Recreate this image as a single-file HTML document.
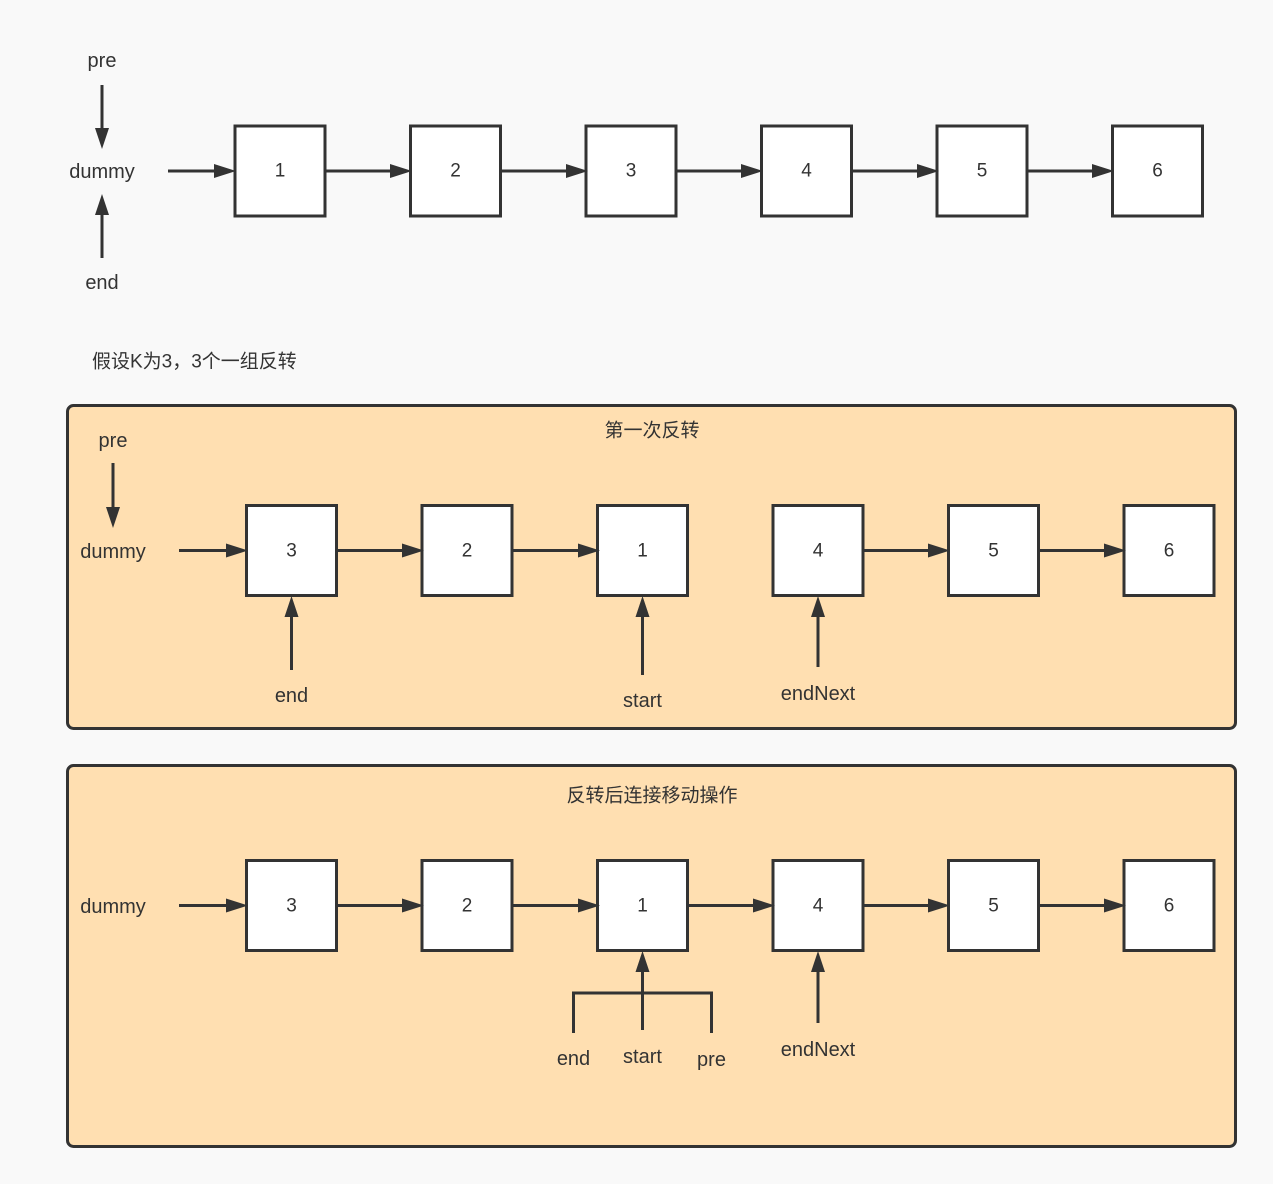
<!DOCTYPE html>
<html><head><meta charset="utf-8"><style>
html,body{margin:0;padding:0;background:#f9f9f9;overflow:hidden;width:1273px;height:1184px;}
svg{display:block;}
svg text{font-family:"Liberation Sans","Noto Sans CJK SC",sans-serif;fill:#333;text-anchor:middle;dominant-baseline:central;}
</style></head><body>
<svg width="1273" height="1184" viewBox="0 0 1273 1184" xmlns="http://www.w3.org/2000/svg">
<rect x="0" y="0" width="1273" height="1184" fill="#f9f9f9"/>
<g stroke="#333" stroke-width="3" fill="none">
<rect x="235" y="126" width="90" height="90" fill="#fff"/>
<rect x="410.5" y="126" width="90" height="90" fill="#fff"/>
<rect x="586" y="126" width="90" height="90" fill="#fff"/>
<rect x="761.5" y="126" width="90" height="90" fill="#fff"/>
<rect x="937" y="126" width="90" height="90" fill="#fff"/>
<rect x="1112.5" y="126" width="90" height="90" fill="#fff"/>
<path d="M168 171H216M325 171H392M500.5 171H568M676 171H743M851.5 171H919M1027 171H1094M102 85V130M102 258V213"/>
<rect x="67.5" y="405.5" width="1168" height="323" rx="6" fill="#ffdfb1"/>
<rect x="246.5" y="505.5" width="90" height="90" fill="#fff"/>
<rect x="422" y="505.5" width="90" height="90" fill="#fff"/>
<rect x="597.5" y="505.5" width="90" height="90" fill="#fff"/>
<rect x="773" y="505.5" width="90" height="90" fill="#fff"/>
<rect x="948.5" y="505.5" width="90" height="90" fill="#fff"/>
<rect x="1124" y="505.5" width="90" height="90" fill="#fff"/>
<path d="M179 550.5H228M336.5 550.5H404M512 550.5H580M863 550.5H930M1038.5 550.5H1106M113 463V510M291.5 670V615M642.5 675V615M818 667V615"/>
<rect x="67.5" y="765.5" width="1168" height="381" rx="6" fill="#ffdfb1"/>
<rect x="246.5" y="860.5" width="90" height="90" fill="#fff"/>
<rect x="422" y="860.5" width="90" height="90" fill="#fff"/>
<rect x="597.5" y="860.5" width="90" height="90" fill="#fff"/>
<rect x="773" y="860.5" width="90" height="90" fill="#fff"/>
<rect x="948.5" y="860.5" width="90" height="90" fill="#fff"/>
<rect x="1124" y="860.5" width="90" height="90" fill="#fff"/>
<path d="M179 905.5H228M336.5 905.5H404M512 905.5H580M687.5 905.5H755M863 905.5H930M1038.5 905.5H1106M642.5 1030V970M573.5 1033V993H711.5V1033M818 1023V970"/>
</g>
<g fill="#333">
<path d="M214 164L236 171L214 178Z"/><path d="M390 164L412 171L390 178Z"/><path d="M566 164L588 171L566 178Z"/><path d="M741 164L763 171L741 178Z"/><path d="M917 164L939 171L917 178Z"/><path d="M1092 164L1114 171L1092 178Z"/>
<path d="M95 128L102 149L109 128Z"/><path d="M95 215L102 194L109 215Z"/>
<path d="M226 543.5L248 550.5L226 557.5Z"/><path d="M402 543.5L424 550.5L402 557.5Z"/><path d="M578 543.5L600 550.5L578 557.5Z"/><path d="M928 543.5L950 550.5L928 557.5Z"/><path d="M1104 543.5L1126 550.5L1104 557.5Z"/>
<path d="M106 507L113 528L120 507Z"/>
<path d="M284.5 617L291.5 596L298.5 617Z"/><path d="M635.5 617L642.5 596L649.5 617Z"/><path d="M811 617L818 596L825 617Z"/>
<path d="M226 898.5L248 905.5L226 912.5Z"/><path d="M402 898.5L424 905.5L402 912.5Z"/><path d="M578 898.5L600 905.5L578 912.5Z"/><path d="M753 898.5L775 905.5L753 912.5Z"/><path d="M928 898.5L950 905.5L928 912.5Z"/><path d="M1104 898.5L1126 905.5L1104 912.5Z"/>
<path d="M635.5 972L642.5 951L649.5 972Z"/><path d="M811 972L818 951L825 972Z"/>
</g>
<g font-size="20">
<text x="102" y="61">pre</text><text x="102" y="172">dummy</text><text x="102" y="283">end</text>
<text x="113" y="441">pre</text><text x="113" y="552">dummy</text><text x="291.5" y="696">end</text><text x="642.5" y="701">start</text><text x="818" y="694">endNext</text>
<text x="113" y="907">dummy</text><text x="573.5" y="1059">end</text><text x="642.5" y="1057">start</text><text x="711.5" y="1060">pre</text><text x="818" y="1050">endNext</text>
</g>
<g font-size="19">
<text x="280" y="171">1</text><text x="455.5" y="171">2</text><text x="631" y="171">3</text><text x="806.5" y="171">4</text><text x="982" y="171">5</text><text x="1157.5" y="171">6</text>
<text x="291.5" y="551">3</text><text x="467" y="551">2</text><text x="642.5" y="551">1</text><text x="818" y="551">4</text><text x="993.5" y="551">5</text><text x="1169" y="551">6</text>
<text x="291.5" y="906">3</text><text x="467" y="906">2</text><text x="642.5" y="906">1</text><text x="818" y="906">4</text><text x="993.5" y="906">5</text><text x="1169" y="906">6</text>
</g>
<g font-size="19">
<text x="92" y="362" style="text-anchor:start">假设K为3，3个一组反转</text>
<text x="652" y="431">第一次反转</text>
<text x="652" y="796">反转后连接移动操作</text>
</g>
</svg>
</body></html>
